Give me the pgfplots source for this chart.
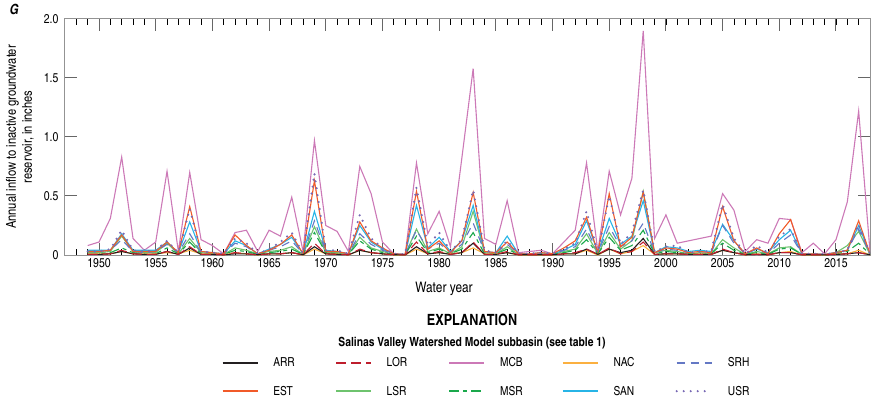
\documentclass[border=0pt]{standalone}
\usepackage{fontspec}
\setmainfont{texgyreheroscn}[Extension=.otf, UprightFont=*-regular, BoldFont=*-bold, ItalicFont=*-italic, BoldItalicFont=*-bolditalic]
\usepackage{pgfplots}
\pgfplotsset{compat=1.18}
\usepackage{pgfplotstable}
\definecolor{cARR}{RGB}{35,31,32}
\definecolor{cEST}{RGB}{241,90,41}
\definecolor{cLOR}{RGB}{190,30,45}
\definecolor{cLSR}{RGB}{110,195,110}
\definecolor{cMCB}{RGB}{204,121,183}
\definecolor{cMSR}{RGB}{26,168,75}
\definecolor{cNAC}{RGB}{251,176,64}
\definecolor{cSAN}{RGB}{39,180,230}
\definecolor{cSRH}{RGB}{100,120,196}
\definecolor{cUSR}{RGB}{120,105,180}
\pgfplotstableread{
year MCB EST USR SAN SRH LSR MSR NAC LOR ARR
1949 0.08 0.03 0.03 0.04 0.03 0.02 0.01 0.01 0.005 0.005
1950 0.11 0.03 0.03 0.04 0.03 0.02 0.01 0.01 0.005 0.005
1951 0.31 0.04 0.05 0.04 0.04 0.03 0.02 0.01 0.01 0.01
1952 0.83 0.17 0.21 0.18 0.13 0.16 0.06 0.03 0.04 0.03
1953 0.14 0.03 0.04 0.04 0.03 0.03 0.02 0.01 0.01 0.01
1954 0.04 0.03 0.03 0.04 0.02 0.02 0.01 0.01 0.005 0.005
1955 0.11 0.03 0.04 0.04 0.03 0.02 0.01 0.01 0.005 0.005
1956 0.71 0.11 0.12 0.11 0.09 0.10 0.06 0.02 0.03 0.03
1957 0.03 0.02 0.02 0.02 0.02 0.01 0.01 0.01 0.005 0.005
1958 0.70 0.41 0.39 0.28 0.18 0.14 0.11 0.04 0.07 0.06
1959 0.13 0.03 0.03 0.03 0.02 0.02 0.01 0.01 0.005 0.005
1960 0.08 0.02 0.02 0.02 0.02 0.01 0.01 0.01 0.005 0.005
1961 0.01 0.01 0.01 0.01 0.01 0.005 0.005 0 0.002 0.002
1962 0.19 0.17 0.14 0.12 0.10 0.06 0.04 0.02 0.02 0.01
1963 0.21 0.08 0.10 0.08 0.07 0.04 0.03 0.01 0.01 0.01
1964 0.03 0.01 0.01 0.01 0.01 0.01 0.005 0 0.002 0.002
1965 0.21 0.04 0.05 0.05 0.04 0.03 0.02 0.01 0.01 0.01
1966 0.16 0.09 0.11 0.09 0.07 0.04 0.03 0.01 0.01 0.01
1967 0.49 0.17 0.19 0.15 0.12 0.07 0.05 0.02 0.02 0.02
1968 0.03 0.01 0.01 0.01 0.01 0.005 0.005 0 0.002 0.002
1969 0.97 0.63 0.69 0.37 0.29 0.24 0.19 0.05 0.10 0.07
1970 0.25 0.03 0.04 0.04 0.03 0.02 0.02 0.01 0.01 0.01
1971 0.20 0.03 0.04 0.03 0.03 0.02 0.01 0.01 0.005 0.005
1972 0.03 0.01 0.01 0.01 0.01 0.005 0.005 0 0.002 0.002
1973 0.75 0.28 0.34 0.25 0.18 0.15 0.12 0.04 0.05 0.04
1974 0.52 0.12 0.14 0.11 0.09 0.06 0.05 0.02 0.02 0.02
1975 0.11 0.06 0.06 0.05 0.04 0.03 0.02 0.01 0.01 0.01
1976 0.01 0.01 0.01 0.01 0.01 0.005 0.005 0 0.002 0.002
1977 0.00 0.005 0.005 0.005 0.005 0.002 0.002 0 0.001 0.001
1978 0.78 0.54 0.57 0.42 0.21 0.22 0.16 0.05 0.11 0.07
1979 0.18 0.05 0.08 0.06 0.05 0.03 0.02 0.01 0.01 0.01
1980 0.37 0.12 0.19 0.15 0.10 0.06 0.05 0.02 0.03 0.02
1981 0.07 0.02 0.03 0.03 0.02 0.01 0.01 0.01 0.005 0.005
1982 0.82 0.12 0.13 0.12 0.09 0.07 0.05 0.02 0.02 0.02
1983 1.58 0.53 0.55 0.42 0.27 0.37 0.19 0.06 0.11 0.10
1984 0.14 0.03 0.04 0.03 0.03 0.02 0.01 0.01 0.005 0.005
1985 0.09 0.02 0.02 0.02 0.02 0.01 0.01 0.01 0.005 0.005
1986 0.46 0.11 0.12 0.16 0.09 0.07 0.05 0.02 0.03 0.02
1987 0.02 0.01 0.01 0.01 0.01 0.005 0.005 0 0.002 0.002
1988 0.03 0.01 0.01 0.01 0.01 0.005 0.005 0 0.002 0.002
1989 0.04 0.02 0.02 0.02 0.01 0.01 0.005 0 0.002 0.002
1990 0.01 0.01 0.01 0.01 0.01 0.005 0.005 0 0.002 0.002
1991 0.11 0.06 0.05 0.04 0.04 0.03 0.02 0.01 0.01 0.01
1992 0.21 0.12 0.10 0.09 0.07 0.05 0.04 0.01 0.02 0.01
1993 0.78 0.32 0.37 0.29 0.22 0.18 0.13 0.04 0.05 0.05
1994 0.03 0.02 0.02 0.02 0.02 0.01 0.01 0 0.005 0.005
1995 0.71 0.52 0.50 0.31 0.24 0.19 0.15 0.05 0.06 0.05
1996 0.34 0.07 0.09 0.09 0.07 0.05 0.04 0.01 0.01 0.02
1997 0.65 0.15 0.19 0.16 0.12 0.12 0.08 0.03 0.03 0.04
1998 1.90 0.53 0.55 0.46 0.27 0.54 0.21 0.08 0.11 0.14
1999 0.14 0.02 0.03 0.02 0.02 0.02 0.01 0.005 0.005 0.005
2000 0.34 0.06 0.07 0.07 0.05 0.04 0.03 0.01 0.01 0.01
2001 0.10 0.05 0.08 0.06 0.04 0.03 0.02 0.01 0.01 0.01
2002 0.12 0.02 0.02 0.03 0.02 0.01 0.01 0.005 0.005 0.005
2003 0.14 0.03 0.03 0.04 0.03 0.02 0.01 0.01 0.005 0.005
2004 0.16 0.02 0.03 0.03 0.02 0.01 0.01 0.005 0.005 0.005
2005 0.52 0.41 0.43 0.26 0.25 0.13 0.10 0.04 0.05 0.04
2006 0.38 0.12 0.14 0.12 0.10 0.06 0.04 0.02 0.02 0.02
2007 0.03 0.01 0.01 0.01 0.01 0.005 0.005 0 0.002 0.002
2008 0.13 0.06 0.08 0.05 0.05 0.03 0.02 0.01 0.005 0.005
2009 0.10 0.01 0.02 0.02 0.01 0.01 0.005 0 0.002 0.002
2010 0.31 0.18 0.16 0.13 0.10 0.06 0.05 0.02 0.02 0.02
2011 0.30 0.30 0.22 0.21 0.17 0.07 0.06 0.03 0.02 0.02
2012 0.02 0.01 0.01 0.01 0.01 0.005 0.005 0 0.002 0.002
2013 0.10 0.01 0.01 0.01 0.01 0.005 0.005 0 0.002 0.002
2014 0.01 0.005 0.005 0.005 0.005 0.002 0.002 0 0.001 0.001
2015 0.13 0.02 0.02 0.02 0.02 0.02 0.01 0.01 0.005 0.005
2016 0.45 0.04 0.04 0.04 0.04 0.08 0.03 0.01 0.01 0.01
2017 1.22 0.29 0.26 0.25 0.22 0.20 0.10 0.04 0.02 0.02
2018 0.03 0.01 0.01 0.01 0.01 0.005 0.005 0 0.002 0.002
}\data
\tikzset{
  sARR/.style={color=cARR, line width=1.1pt},
  sEST/.style={color=cEST, line width=1.1pt},
  sLOR/.style={color=cLOR, line width=1.1pt, dash pattern=on 10pt off 5pt},
  sLSR/.style={color=cLSR, line width=1.1pt},
  sMCB/.style={color=cMCB, line width=1.1pt},
  sMSR/.style={color=cMSR, line width=1.1pt, dash pattern=on 10pt off 4pt on 4pt off 4pt},
  sNAC/.style={color=cNAC, line width=1.1pt},
  sSAN/.style={color=cSAN, line width=1.1pt},
  sSRH/.style={color=cSRH, line width=1.1pt, dash pattern=on 8pt off 6pt},
  sUSR/.style={color=cUSR, line width=2.4pt, line cap=round, dash pattern=on 0pt off 7pt},
}
\begin{document}
\begin{tikzpicture}
\useasboundingbox (-65pt,-141pt) rectangle (816pt,255pt);
\begin{axis}[
  at={(0pt,0pt)}, anchor=south west,
  scale only axis, width=805pt, height=236pt,
  xmin=1947, xmax=2018, ymin=0, ymax=2,
  xtick={1950,1955,1960,1965,1970,1975,1980,1985,1990,1995,2000,2005,2010,2015},
  xticklabels={1950,1955,1960,1965,1970,1975,1980,1985,1990,1995,2000,2005,2010,2015},
  minor xtick={1948,1949,...,2018},
  ytick={0,0.5,1,1.5,2},
  yticklabels={0,0.5,1.0,1.5,2.0},
  tick align=inside,
  major tick length=12pt, minor tick length=6pt,
  axis line style={gray!85, line width=1pt},
  major tick style={gray!80!black, line width=1pt},
  minor tick style={black, line width=0.7pt},
  ticklabel style={font=\fontsize{12.8}{14}\selectfont},
  yticklabel style={xshift=-3pt},
  /pgf/number format/assume math mode=true,
  legend columns=5,
  legend style={draw=none, fill=none, inner sep=0pt, at={(0.1947,-0.426)}, anchor=north west,
    font=\fontsize{12.4}{13}\selectfont, row sep=13.5pt, column sep=0pt,
    /tikz/every odd column/.append style={column sep=13pt},
    /tikz/every even column/.append style={text width=60pt}},
  legend cell align=left,
  legend image code/.code={\draw[#1] (0pt,0pt) -- (35pt,0pt);},
]
\addplot[sMCB, forget plot] table[x=year,y=MCB]{\data};
\addplot[sLSR, forget plot] table[x=year,y=LSR]{\data};
\addplot[sSAN, forget plot] table[x=year,y=SAN]{\data};
\addplot[sSRH, forget plot] table[x=year,y=SRH]{\data};
\addplot[sMSR, forget plot] table[x=year,y=MSR]{\data};
\addplot[sNAC, forget plot] table[x=year,y=NAC]{\data};
\addplot[sEST, forget plot] table[x=year,y=EST]{\data};
\addplot[sUSR, forget plot] table[x=year,y=USR]{\data};
\addplot[sARR, forget plot] table[x=year,y=ARR]{\data};
\addplot[sLOR, forget plot] table[x=year,y=LOR]{\data};
\addlegendimage{sARR, line width=1.4pt}\addlegendentry{ARR}
\addlegendimage{sLOR, line width=1.4pt}\addlegendentry{LOR}
\addlegendimage{sMCB, line width=1.4pt}\addlegendentry{MCB}
\addlegendimage{sNAC, line width=1.4pt}\addlegendentry{NAC}
\addlegendimage{sSRH, line width=1.4pt}\addlegendentry{SRH}
\addlegendimage{sEST, line width=1.4pt}\addlegendentry{EST}
\addlegendimage{sLSR, line width=1.4pt}\addlegendentry{LSR}
\addlegendimage{sMSR, line width=1.4pt}\addlegendentry{MSR}
\addlegendimage{sSAN, line width=1.4pt}\addlegendentry{SAN}
\addlegendimage{sUSR, dash pattern=on 0pt off 7pt}\addlegendentry{USR}
\end{axis}
\node[font=\fontsize{14}{16}\selectfont\bfseries\itshape] at (-51pt,246pt) {G};
\node[rotate=90, align=center, font=\fontsize{13.6}{16}\selectfont] at (-45pt,118pt)
  {Annual inflow to inactive groundwater\\reservoir, in inches};
\node[font=\fontsize{14.5}{16}\selectfont] at (379pt,-34pt) {Water year};
\node[font=\fontsize{15.5}{17}\selectfont\bfseries] at (407pt,-64.5pt) {EXPLANATION};
\node[font=\fontsize{12.6}{14}\selectfont\bfseries] at (407pt,-88pt) {Salinas Valley Watershed Model subbasin (see table 1)};
\end{tikzpicture}
\end{document}
